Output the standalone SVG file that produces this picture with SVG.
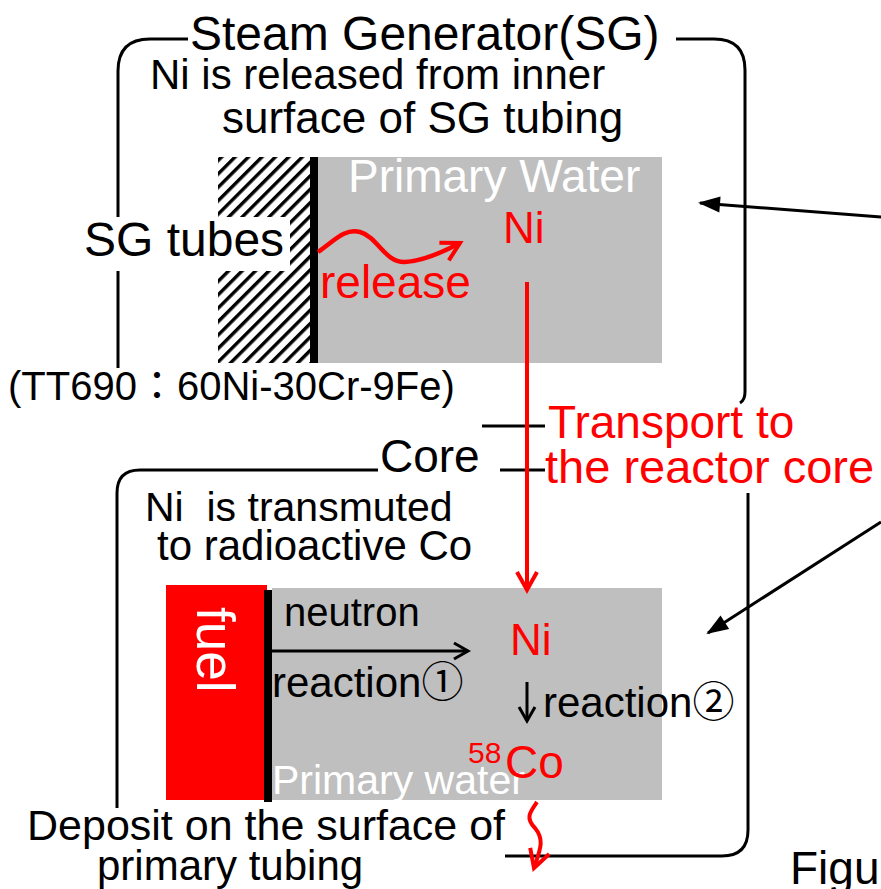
<svg xmlns="http://www.w3.org/2000/svg" width="881" height="889" viewBox="0 0 881 889">
<style>
text{font-family:"Liberation Sans",Arial,"Noto Sans CJK JP",sans-serif;}
.k{fill:#000;}
.r{fill:#ff0000;}
.w{fill:#ffffff;}
.box{fill:none;stroke:#000;stroke-width:3;}
.gray{fill:#bfbfbf;}
</style>
<defs>
<pattern id="hatch" patternUnits="userSpaceOnUse" width="9.5" height="9.5" patternTransform="rotate(45)">
<rect x="0" y="0" width="3.4" height="9.5" fill="#000"/>
</pattern>
<marker id="chevR" viewBox="-2 -12 26 24" refX="20" refY="0" markerWidth="26" markerHeight="24" markerUnits="userSpaceOnUse" orient="auto" style="overflow:visible">
<path d="M2,-10 L20,0 L2,10" fill="none" stroke="#ff0000" stroke-width="4"/>
</marker>
<marker id="chevK" viewBox="-2 -10 22 20" refX="16" refY="0" markerWidth="22" markerHeight="20" markerUnits="userSpaceOnUse" orient="auto" style="overflow:visible">
<path d="M2,-8 L16,0 L2,8" fill="none" stroke="#000" stroke-width="3"/>
</marker>
<marker id="triK" viewBox="0 -9 22 18" refX="20" refY="0" markerWidth="22" markerHeight="18" markerUnits="userSpaceOnUse" orient="auto" style="overflow:visible">
<path d="M0,-8 L22,0 L0,8 Z" fill="#000"/>
</marker>
</defs>

<g id="sg-box">
<path class="box" d="M188,39 H150 Q118,39 118,71 V218"/>
<path class="box" d="M118,271 V368"/>
<path class="box" d="M676,39 H714 Q745,39 745,70 V392 Q745,400 740,403"/>
<path class="box" d="M482,426 H545"/>
<text class="k" x="190" y="50" font-size="48">Steam Generator(SG)</text>
<text class="k" x="150" y="89" font-size="42">Ni is released from inner</text>
<text class="k" x="222" y="133" font-size="44">surface of SG tubing</text>
</g>

<g id="sg-tube">
<rect x="218" y="157" width="92" height="206" fill="url(#hatch)"/>
<rect x="310" y="157" width="8" height="206" fill="#000"/>
<rect x="78" y="217" width="212" height="54" fill="#fff"/>
<text class="k" x="84" y="256" font-size="48">SG tubes</text>
<text class="k" x="8" y="400" font-size="40">(TT690：60Ni-30Cr-9Fe)</text>
</g>

<g id="sg-water">
<rect class="gray" x="318" y="157" width="344" height="206"/>
<text class="w" x="348" y="192" font-size="46">Primary Water</text>
<text class="r" x="503" y="243" font-size="44">Ni</text>
<text class="r" x="320" y="298" font-size="46">release</text>
</g>

<g id="core-box">
<path class="box" d="M378,470 H140 Q117,470 117,493 V808"/>
<path class="box" d="M500,470 H545"/>
<path class="box" d="M748,493 V830 Q748,856 722,856 H505"/>
<text class="k" x="380" y="472" font-size="46">Core</text>
<text class="k" x="145" y="521" font-size="41" xml:space="preserve">Ni  is transmuted</text>
<text class="k" x="157" y="560" font-size="42">to radioactive Co</text>
</g>

<g id="fuel">
<rect x="166" y="585" width="101" height="215" fill="#ff0000"/>
<text class="w" font-size="53" transform="translate(197,607) rotate(90)">fuel</text>
<rect x="264" y="590" width="8" height="212" fill="#000"/>
</g>

<g id="core-water">
<rect class="gray" x="272" y="588" width="390" height="212"/>
<text class="k" x="284" y="626" font-size="40">neutron</text>
<text class="k" x="272" y="697" font-size="42">reaction①</text>
<text class="r" x="510" y="655" font-size="44">Ni</text>
<text class="k" x="543" y="717" font-size="42">reaction②</text>
<text class="w" x="272" y="794" font-size="41">Primary water</text>
<text class="r" x="468" y="763" font-size="30">58</text>
<text class="r" x="505" y="778" font-size="46">Co</text>
</g>

<g id="transport-label">
<text class="r" x="548" y="438" font-size="46">Transport to</text>
<text class="r" x="545" y="483" font-size="47">the reactor core</text>
</g>

<g id="deposit-label">
<text class="k" x="27" y="840" font-size="43">Deposit on the surface of</text>
<text class="k" x="97" y="880" font-size="42">primary tubing</text>
</g>

<g id="caption">
<text class="k" x="790" y="884" font-size="46">Figu</text>
</g>

<g id="connectors">
<path d="M318,252 C335,240 345,228 360,232 C378,237 385,263 405,262 C425,261 445,251 460,243" fill="none" stroke="#ff0000" stroke-width="4.5" marker-end="url(#chevR)"/>
<line x1="527" y1="282" x2="527" y2="590" stroke="#ff0000" stroke-width="4" marker-end="url(#chevR)"/>
<line x1="881" y1="217" x2="700" y2="203" stroke="#000" stroke-width="3" marker-end="url(#triK)"/>
<line x1="881" y1="522" x2="708" y2="633" stroke="#000" stroke-width="3" marker-end="url(#triK)"/>
<line x1="272" y1="651" x2="468" y2="651" stroke="#000" stroke-width="3" marker-end="url(#chevK)"/>
<line x1="527" y1="682" x2="527" y2="721" stroke="#000" stroke-width="3" marker-end="url(#chevK)"/>
<path d="M537,802 C530,812 525,818 535,828 C545,840 540,850 534,868" fill="none" stroke="#ff0000" stroke-width="4" marker-end="url(#chevR)"/>
</g>
</svg>
